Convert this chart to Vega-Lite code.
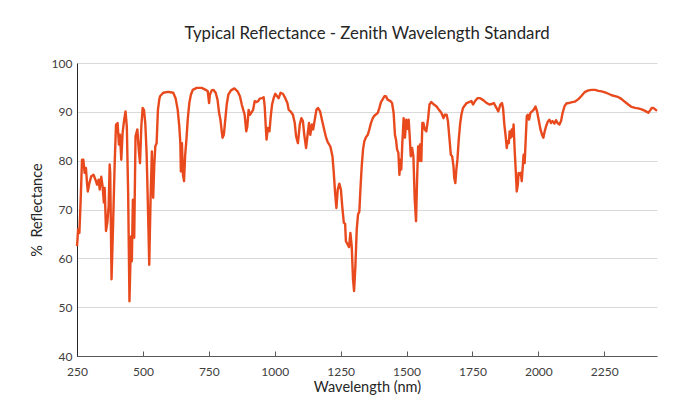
{
  "$schema": "https://vega.github.io/schema/vega-lite/v6.json",
  "autosize": {"type": "none"},
  "width": 580,
  "height": 293,
  "padding": {"left": 77, "top": 63, "right": 30, "bottom": 47},
  "background": "white",
  "title": {
    "text": "Typical Reflectance - Zenith Wavelength Standard",
    "font": "Lato",
    "fontSize": 16.8,
    "fontWeight": "normal",
    "color": "#262626",
    "anchor": "middle",
    "offset": 14
  },
  "config": {
    "view": {"stroke": null},
    "axis": {
      "labelFont": "Lato",
      "titleFont": "Lato",
      "labelColor": "#404040",
      "titleColor": "#262626",
      "labelFontSize": 12,
      "titleFontSize": 14.5,
      "titleFontWeight": "normal"
    }
  },
  "data": {
    "values": [
      {"w":250,"r":62.5},{"w":252,"r":64},{"w":254,"r":65.9},{"w":259,"r":65.2},{"w":264,"r":72},{"w":269,"r":80.2},{"w":274,"r":80.2},{"w":279,"r":77.5},{"w":284,"r":78.5},{"w":288,"r":75.4},{"w":291,"r":73.7},{"w":297,"r":75.4},{"w":304,"r":76.8},{"w":313,"r":77.1},{"w":320,"r":76.1},{"w":326,"r":75.1},{"w":332,"r":76.1},{"w":336,"r":74.1},{"w":342,"r":76.7},{"w":347,"r":74.8},{"w":352,"r":71.4},{"w":355,"r":74.4},{"w":360,"r":65.6},{"w":365,"r":67.3},{"w":370,"r":70.7},{"w":374,"r":79.2},{"w":376,"r":77.5},{"w":381,"r":55.7},{"w":386,"r":65.2},{"w":393,"r":79.5},{"w":398,"r":87.4},{"w":404,"r":87.7},{"w":409,"r":83.3},{"w":413,"r":85.3},{"w":418,"r":80.2},{"w":423,"r":85.7},{"w":429,"r":88.4},{"w":434,"r":90.1},{"w":439,"r":87.0},{"w":444,"r":73.4},{"w":449,"r":51.2},{"w":455,"r":64.5},{"w":458,"r":59.4},{"w":462,"r":72.0},{"w":467,"r":64.2},{"w":472,"r":85.0},{"w":479,"r":86.4},{"w":484,"r":82.3},{"w":489,"r":79.5},{"w":494,"r":87.0},{"w":499,"r":90.8},{"w":504,"r":90.4},{"w":509,"r":87.7},{"w":514,"r":81.6},{"w":519,"r":70.7},{"w":524,"r":58.7},{"w":529,"r":72.0},{"w":534,"r":81.9},{"w":539,"r":72.4},{"w":543,"r":78.9},{"w":547,"r":82.9},{"w":552,"r":83.6},{"w":557,"r":90.4},{"w":562,"r":92.5},{"w":565,"r":93.2},{"w":577,"r":93.9},{"w":596,"r":94.1},{"w":615,"r":93.9},{"w":624,"r":92.8},{"w":632,"r":90.4},{"w":638,"r":87.0},{"w":642,"r":83.6},{"w":644,"r":77.8},{"w":648,"r":83.6},{"w":652,"r":77.1},{"w":656,"r":75.8},{"w":660,"r":80.9},{"w":665,"r":84.3},{"w":670,"r":88.4},{"w":676,"r":91.8},{"w":682,"r":93.5},{"w":689,"r":94.5},{"w":704,"r":94.9},{"w":723,"r":94.9},{"w":738,"r":94.5},{"w":746,"r":94.2},{"w":751,"r":91.8},{"w":754,"r":93.5},{"w":761,"r":94.4},{"w":767,"r":94.5},{"w":776,"r":93.9},{"w":783,"r":92.5},{"w":789,"r":89.8},{"w":794,"r":88.4},{"w":799,"r":86.0},{"w":802,"r":84.7},{"w":807,"r":85.3},{"w":813,"r":88.7},{"w":818,"r":91.5},{"w":824,"r":93.5},{"w":834,"r":94.4},{"w":847,"r":94.8},{"w":859,"r":94.2},{"w":868,"r":93.2},{"w":875,"r":91.5},{"w":880,"r":90.5},{"w":886,"r":89.4},{"w":892,"r":86.0},{"w":896,"r":87.0},{"w":901,"r":90.4},{"w":906,"r":89.4},{"w":911,"r":89.8},{"w":918,"r":90.4},{"w":924,"r":92.2},{"w":930,"r":92.0},{"w":937,"r":92.2},{"w":943,"r":92.7},{"w":952,"r":92.8},{"w":958,"r":93.0},{"w":962,"r":91.1},{"w":966,"r":87.0},{"w":969,"r":84.3},{"w":974,"r":86.7},{"w":980,"r":86.0},{"w":985,"r":89.1},{"w":990,"r":91.5},{"w":996,"r":92.8},{"w":1002,"r":93.7},{"w":1009,"r":93.2},{"w":1015,"r":92.8},{"w":1022,"r":93.9},{"w":1031,"r":93.7},{"w":1040,"r":92.8},{"w":1048,"r":91.8},{"w":1053,"r":90.4},{"w":1060,"r":90.1},{"w":1069,"r":89.4},{"w":1076,"r":87.7},{"w":1081,"r":85.0},{"w":1088,"r":83.6},{"w":1095,"r":87.4},{"w":1101,"r":88.7},{"w":1107,"r":88.1},{"w":1112,"r":85.3},{"w":1119,"r":82.6},{"w":1124,"r":85.0},{"w":1130,"r":87.7},{"w":1135,"r":85.3},{"w":1141,"r":87.4},{"w":1146,"r":86.4},{"w":1151,"r":88.1},{"w":1158,"r":90.4},{"w":1164,"r":90.8},{"w":1172,"r":90.1},{"w":1179,"r":88.4},{"w":1187,"r":86.5},{"w":1195,"r":84.7},{"w":1201,"r":83.8},{"w":1211,"r":82.9},{"w":1219,"r":80.9},{"w":1224,"r":77.5},{"w":1229,"r":73.4},{"w":1234,"r":70.3},{"w":1239,"r":74.1},{"w":1245,"r":75.3},{"w":1251,"r":74.1},{"w":1256,"r":70.7},{"w":1262,"r":67.3},{"w":1267,"r":67.1},{"w":1270,"r":63.5},{"w":1277,"r":62.8},{"w":1282,"r":62.3},{"w":1287,"r":65.2},{"w":1292,"r":62.5},{"w":1297,"r":55.7},{"w":1301,"r":53.3},{"w":1306,"r":58.4},{"w":1311,"r":65.9},{"w":1316,"r":69.0},{"w":1321,"r":69.6},{"w":1325,"r":74.1},{"w":1330,"r":78.9},{"w":1335,"r":82.3},{"w":1340,"r":84.0},{"w":1346,"r":84.8},{"w":1353,"r":85.3},{"w":1359,"r":86.4},{"w":1365,"r":87.7},{"w":1372,"r":88.7},{"w":1378,"r":89.2},{"w":1391,"r":89.8},{"w":1397,"r":90.8},{"w":1403,"r":92.0},{"w":1410,"r":92.6},{"w":1416,"r":93.2},{"w":1422,"r":93.2},{"w":1428,"r":92.5},{"w":1439,"r":92.2},{"w":1445,"r":91.8},{"w":1451,"r":89.8},{"w":1456,"r":85.3},{"w":1460,"r":84.3},{"w":1464,"r":82.3},{"w":1469,"r":81.6},{"w":1473,"r":77.1},{"w":1477,"r":80.2},{"w":1480,"r":78.2},{"w":1484,"r":83.6},{"w":1489,"r":88.7},{"w":1494,"r":84.7},{"w":1499,"r":88.4},{"w":1504,"r":86.5},{"w":1508,"r":88.4},{"w":1512,"r":85.0},{"w":1516,"r":80.9},{"w":1521,"r":82.6},{"w":1526,"r":80.9},{"w":1531,"r":72.0},{"w":1536,"r":67.6},{"w":1540,"r":76.1},{"w":1544,"r":82.9},{"w":1547,"r":79.9},{"w":1551,"r":83.3},{"w":1556,"r":79.9},{"w":1560,"r":87.7},{"w":1564,"r":87.7},{"w":1569,"r":86.4},{"w":1575,"r":86.0},{"w":1582,"r":88.7},{"w":1587,"r":91.5},{"w":1594,"r":92.0},{"w":1604,"r":91.5},{"w":1614,"r":91.1},{"w":1623,"r":90.4},{"w":1632,"r":89.8},{"w":1640,"r":88.7},{"w":1645,"r":89.4},{"w":1652,"r":89.4},{"w":1657,"r":88.1},{"w":1662,"r":85.0},{"w":1668,"r":81.2},{"w":1673,"r":80.9},{"w":1678,"r":78.9},{"w":1681,"r":76.5},{"w":1685,"r":75.4},{"w":1689,"r":78.2},{"w":1693,"r":80.2},{"w":1698,"r":84.3},{"w":1703,"r":87.4},{"w":1708,"r":89.4},{"w":1714,"r":90.8},{"w":1721,"r":91.3},{"w":1728,"r":91.8},{"w":1737,"r":92.0},{"w":1746,"r":92.2},{"w":1752,"r":91.5},{"w":1760,"r":92.2},{"w":1769,"r":92.8},{"w":1779,"r":92.8},{"w":1791,"r":92.4},{"w":1804,"r":91.8},{"w":1814,"r":91.5},{"w":1824,"r":91.6},{"w":1831,"r":91.8},{"w":1841,"r":90.8},{"w":1848,"r":90.1},{"w":1856,"r":91.5},{"w":1862,"r":91.8},{"w":1866,"r":90.8},{"w":1871,"r":87.4},{"w":1876,"r":85.0},{"w":1880,"r":82.6},{"w":1884,"r":84.0},{"w":1888,"r":83.6},{"w":1891,"r":86.0},{"w":1895,"r":84.7},{"w":1899,"r":86.4},{"w":1903,"r":85.0},{"w":1906,"r":87.4},{"w":1910,"r":82.3},{"w":1914,"r":78.2},{"w":1918,"r":73.7},{"w":1922,"r":75.1},{"w":1925,"r":77.5},{"w":1929,"r":77.1},{"w":1933,"r":77.5},{"w":1937,"r":75.8},{"w":1941,"r":78.9},{"w":1944,"r":81.2},{"w":1948,"r":79.5},{"w":1952,"r":84.3},{"w":1956,"r":89.1},{"w":1960,"r":89.4},{"w":1965,"r":88.4},{"w":1970,"r":89.8},{"w":1976,"r":90.1},{"w":1982,"r":90.4},{"w":1989,"r":91.1},{"w":1995,"r":90.1},{"w":2001,"r":88.4},{"w":2008,"r":86.4},{"w":2014,"r":85.3},{"w":2019,"r":84.7},{"w":2024,"r":86.0},{"w":2029,"r":87.0},{"w":2035,"r":87.9},{"w":2042,"r":88.4},{"w":2048,"r":87.7},{"w":2054,"r":88.1},{"w":2061,"r":87.6},{"w":2067,"r":88.3},{"w":2073,"r":87.7},{"w":2080,"r":87.4},{"w":2086,"r":88.1},{"w":2092,"r":89.8},{"w":2099,"r":91.1},{"w":2106,"r":91.7},{"w":2115,"r":91.8},{"w":2128,"r":92.0},{"w":2139,"r":92.1},{"w":2152,"r":92.6},{"w":2164,"r":93.3},{"w":2177,"r":94.1},{"w":2190,"r":94.4},{"w":2202,"r":94.5},{"w":2215,"r":94.5},{"w":2228,"r":94.3},{"w":2240,"r":94.2},{"w":2253,"r":94.0},{"w":2266,"r":93.7},{"w":2278,"r":93.4},{"w":2291,"r":93.2},{"w":2304,"r":93.0},{"w":2316,"r":92.6},{"w":2329,"r":92.0},{"w":2341,"r":91.5},{"w":2354,"r":91.0},{"w":2367,"r":90.8},{"w":2379,"r":90.7},{"w":2392,"r":90.5},{"w":2405,"r":90.2},{"w":2417,"r":89.8},{"w":2424,"r":90.3},{"w":2430,"r":90.8},{"w":2436,"r":90.8},{"w":2443,"r":90.5},{"w":2450,"r":90.2}
    ]
  },
  "mark": {"type": "line", "color": "#E84A1E", "strokeWidth": 2.4, "strokeJoin": "round"},
  "encoding": {
    "x": {
      "field": "w",
      "type": "quantitative",
      "scale": {"domain": [250, 2450], "nice": false, "zero": false},
      "axis": {
        "title": "Wavelength (nm)",
        "values": [250, 500, 750, 1000, 1250, 1500, 1750, 2000, 2250],
        "format": "d",
        "grid": false,
        "domainColor": "#595959",
        "tickColor": "#595959",
        "tickSize": -5,
        "labelPadding": 15,
        "titlePadding": 3,
        "labelFlush": false
      }
    },
    "y": {
      "field": "r",
      "type": "quantitative",
      "scale": {"domain": [40, 100], "nice": false, "zero": false},
      "axis": {
        "title": "% \u00a0Reflectance",
        "values": [40, 50, 60, 70, 80, 90, 100],
        "grid": true,
        "gridColor": "#d9d9d9",
        "gridWidth": 1,
        "ticks": false,
        "domainColor": "#262626",
        "labelPadding": 5,
        "titlePadding": 7
      }
    }
  }
}
